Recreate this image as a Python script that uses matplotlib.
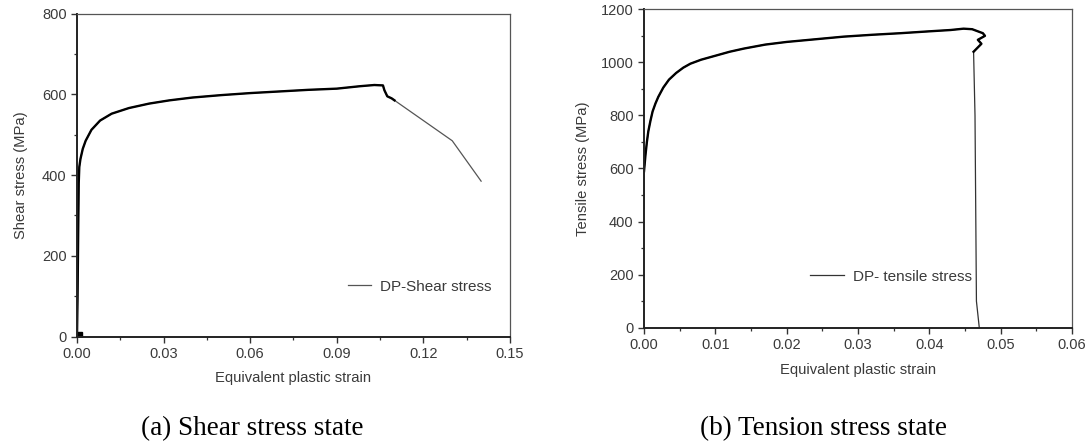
"""
Shear and tension stress vs equivalent plastic strain for DP steel,
two panels side by side with Origin-style axes and captions below.
"""

import matplotlib
matplotlib.use("Agg")
import matplotlib.pyplot as plt
from matplotlib.ticker import MultipleLocator

# (a) shear stress state
shear_strain = [0.0, 0.0002, 0.0004, 0.0006, 0.0008, 0.0012, 0.002, 0.003,
                0.005, 0.008, 0.012, 0.018, 0.025, 0.032, 0.04, 0.05, 0.06,
                0.07, 0.08, 0.09, 0.098, 0.103, 0.106, 0.1065, 0.1075,
                0.109, 0.110, 0.130, 0.140]
shear_stress = [0, 100, 250, 380, 420, 440, 465, 485, 512, 535, 552, 566,
                577, 585, 592, 598, 603, 607, 611, 614, 620, 623, 622, 610,
                595, 590, 585, 485, 385]
shear_break = 26          # index where the noisy measured part ends

# (b) tension stress state
tens_strain = [0.0, 0.0, 0.0002, 0.0004, 0.0006, 0.0009, 0.0012, 0.0016,
               0.002, 0.0027, 0.0035, 0.0045, 0.0055, 0.0065, 0.008, 0.010,
               0.012, 0.014, 0.017, 0.020, 0.024, 0.028, 0.032, 0.036,
               0.040, 0.043, 0.0448, 0.0460, 0.0475, 0.0478, 0.0468, 0.0473,
               0.0462, 0.0464, 0.0466, 0.0470]
tens_stress = [450, 590, 650, 700, 740, 780, 815, 845, 870, 905, 935, 960,
               980, 995, 1010, 1025, 1040, 1052, 1067, 1077, 1087, 1097,
               1104, 1110, 1117, 1122, 1127, 1125, 1110, 1100, 1085, 1070,
               1040, 800, 100, 0]
tens_break = 33

# captions
captions = ["(a) Shear stress state", "(b) Tension stress state"]

plt.rcParams["font.family"] = ["Liberation Sans", "DejaVu Sans"]
TXT = "#3a3a3a"
TICK_FS = 10.5
LABEL_FS = 10.6
LEG_FS = 11


def style_axes(ax):
    for side in ("left", "bottom"):
        ax.spines[side].set_linewidth(1.4)
        ax.spines[side].set_color("#222222")
    for side in ("top", "right"):
        ax.spines[side].set_linewidth(0.9)
        ax.spines[side].set_color("#555555")
    ax.tick_params(which="both", direction="out", colors="#333333",
                   labelcolor=TXT, labelsize=TICK_FS, top=False, right=False)
    ax.tick_params(which="major", length=4, width=1.0)
    ax.tick_params(which="minor", length=2.5, width=0.9)


fig = plt.figure(figsize=(10.89, 4.43), dpi=100)

# ---- panel (a)
ax1 = fig.add_axes([0.0707, 0.240, 0.3976, 0.7295])
ax1.plot(shear_strain, shear_stress, color="#555555", lw=0.9,
         label="DP-Shear stress")
ax1.plot(shear_strain[:shear_break + 1], shear_stress[:shear_break + 1],
         color="black", lw=1.7)
ax1.plot([0.0008], [5], marker="s", ms=5, color="black", ls="none")
ax1.set_xlim(0, 0.15)
ax1.set_ylim(0, 800)
ax1.xaxis.set_major_locator(MultipleLocator(0.03))
ax1.xaxis.set_minor_locator(MultipleLocator(0.015))
ax1.yaxis.set_major_locator(MultipleLocator(200))
ax1.yaxis.set_minor_locator(MultipleLocator(100))
ax1.xaxis.set_major_formatter(plt.FormatStrFormatter("%.2f"))
ax1.set_xlabel("Equivalent plastic strain", fontsize=LABEL_FS, color=TXT,
               labelpad=7)
ax1.set_ylabel("Shear stress (MPa)", fontsize=LABEL_FS, color=TXT,
               labelpad=10)
style_axes(ax1)
ax1.legend(loc="lower right", bbox_to_anchor=(0.99, 0.09), frameon=False,
           fontsize=LEG_FS, handlelength=1.5, handletextpad=0.6,
           labelcolor=TXT)

# ---- panel (b)
ax2 = fig.add_axes([0.5914, 0.2603, 0.393, 0.7187])
ax2.plot(tens_strain, tens_stress, color="#333333", lw=0.9,
         label="DP- tensile stress")
ax2.plot(tens_strain[1:tens_break], tens_stress[1:tens_break],
         color="black", lw=1.7)
ax2.set_xlim(0, 0.06)
ax2.set_ylim(0, 1200)
ax2.xaxis.set_major_locator(MultipleLocator(0.01))
ax2.xaxis.set_minor_locator(MultipleLocator(0.005))
ax2.yaxis.set_major_locator(MultipleLocator(200))
ax2.yaxis.set_minor_locator(MultipleLocator(100))
ax2.xaxis.set_major_formatter(plt.FormatStrFormatter("%.2f"))
ax2.set_xlabel("Equivalent plastic strain", fontsize=LABEL_FS, color=TXT,
               labelpad=7.5)
ax2.set_ylabel("Tensile stress (MPa)", fontsize=LABEL_FS, color=TXT,
               labelpad=8)
style_axes(ax2)
ax2.legend(loc="lower left", bbox_to_anchor=(0.356, 0.095), frameon=False,
           fontsize=LEG_FS, handlelength=2.2, handletextpad=0.6,
           labelcolor=TXT)

# captions
fig.text(252 / 1089, 1 - 429 / 443, captions[0], ha="center", va="center",
         fontsize=19.5, family="Liberation Serif")
fig.text(823 / 1089, 1 - 429 / 443, captions[1], ha="center", va="center",
         fontsize=19.5, family="Liberation Serif")

fig.savefig("out.png", dpi=100)
